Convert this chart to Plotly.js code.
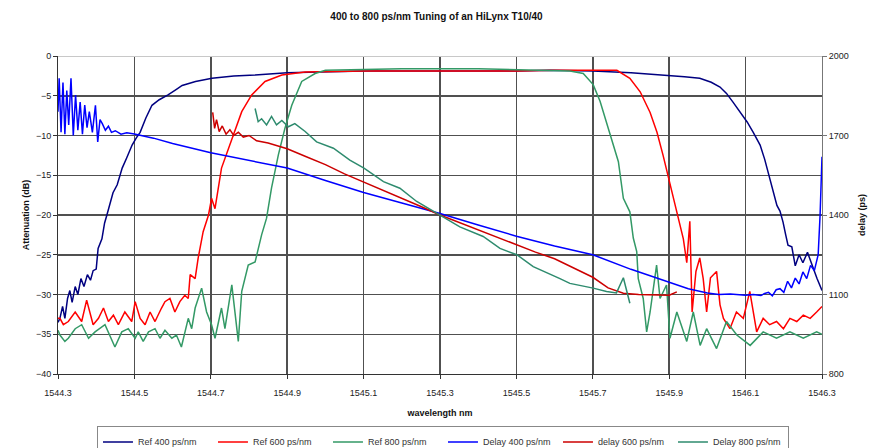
<!DOCTYPE html>
<html>
<head>
<meta charset="utf-8">
<script src="https://cdn.plot.ly/plotly-3.0.1.min.js"></script>
<style>html,body{margin:0;padding:0;background:#fff;}#chart{width:873px;height:448px;}</style>
</head>
<body>
<div id="chart"></div>
<script>
// ---- Data ----
const titleText = "400 to 800 ps/nm Tuning of an HiLynx T10/40";
const seriesNames = ["Ref 400 ps/nm", "Ref 600 ps/nm", "Ref 800 ps/nm", "Delay 400 ps/nm", "delay 600 ps/nm", "Delay 800 ps/nm"];
const xTickVals = [1544.3, 1544.5, 1544.7, 1544.9, 1545.1, 1545.3, 1545.5, 1545.7, 1545.9, 1546.1, 1546.3];
const yTickVals = [0, -5, -10, -15, -20, -25, -30, -35, -40];
const y2TickVals = [800, 1100, 1400, 1700, 2000];

// Ref 400 ps/nm  (attenuation, dB)
const ref400X = [1544.300,1544.305,1544.312,1544.318,1544.325,1544.331,1544.337,1544.345,1544.352,1544.360,1544.368,1544.377,1544.385,1544.392,1544.400,1544.405,1544.415,1544.422,1544.428,1544.436,1544.444,1544.455,1544.468,1544.480,1544.494,1544.505,1544.515,1544.530,1544.546,1544.565,1544.588,1544.610,1544.625,1544.660,1544.703,1544.760,1544.816,1544.900,1544.970,1545.100,1545.300,1545.500,1545.588,1545.700,1545.800,1545.894,1545.940,1545.980,1546.010,1546.033,1546.050,1546.067,1546.085,1546.104,1546.120,1546.138,1546.150,1546.164,1546.175,1546.182,1546.190,1546.198,1546.205,1546.211,1546.221,1546.230,1546.240,1546.250,1546.262,1546.275,1546.287,1546.300];
const ref400Y = [-33.5,-33.0,-31.5,-33.0,-30.5,-29.5,-31.0,-29.0,-30.0,-28.0,-29.0,-27.5,-28.2,-27.0,-26.8,-24.2,-23.0,-21.0,-20.0,-18.5,-17.2,-16.2,-14.1,-12.8,-11.2,-10.3,-9.6,-7.8,-6.2,-5.5,-4.9,-4.2,-3.7,-3.2,-2.8,-2.5,-2.4,-2.1,-2.0,-1.9,-1.9,-1.9,-1.8,-1.9,-2.1,-2.4,-2.6,-2.8,-3.3,-3.9,-4.7,-5.8,-7.0,-8.3,-9.6,-11.2,-13.0,-15.4,-17.5,-18.8,-19.5,-20.9,-22.5,-23.8,-24.0,-26.4,-25.0,-26.0,-24.7,-26.5,-28.0,-29.5];

// Ref 600 ps/nm  (attenuation, dB)
const ref600X = [1544.300,1544.305,1544.314,1544.327,1544.345,1544.362,1544.375,1544.384,1544.392,1544.406,1544.419,1544.432,1544.445,1544.458,1544.475,1544.493,1544.502,1544.515,1544.528,1544.541,1544.554,1544.571,1544.580,1544.593,1544.606,1544.619,1544.632,1544.641,1544.646,1544.659,1544.667,1544.680,1544.694,1544.702,1544.711,1544.728,1544.755,1544.781,1544.807,1544.842,1544.886,1544.947,1545.100,1545.300,1545.500,1545.600,1545.763,1545.797,1545.824,1545.850,1545.868,1545.884,1545.897,1545.910,1545.923,1545.937,1545.946,1545.954,1545.960,1545.970,1545.980,1545.989,1545.998,1546.008,1546.024,1546.033,1546.042,1546.059,1546.076,1546.094,1546.111,1546.129,1546.146,1546.163,1546.181,1546.199,1546.216,1546.234,1546.251,1546.269,1546.286,1546.300];
const ref600Y = [-33.0,-33.0,-33.8,-33.4,-32.2,-33.4,-30.7,-32.2,-33.8,-33.0,-31.7,-33.4,-32.6,-33.8,-32.2,-33.4,-30.9,-33.0,-33.8,-32.2,-33.4,-31.7,-30.9,-30.5,-32.2,-30.9,-30.1,-30.5,-27.5,-28.0,-25.4,-22.1,-20.0,-17.9,-19.2,-14.1,-10.4,-7.0,-4.9,-3.2,-2.4,-2.0,-1.9,-1.9,-1.9,-1.8,-1.8,-2.8,-4.5,-7.1,-9.6,-12.5,-15.0,-17.5,-20.0,-23.0,-26.0,-20.8,-32.2,-27.1,-25.4,-28.0,-32.2,-27.9,-27.1,-31.3,-33.0,-34.3,-32.2,-33.0,-29.6,-34.7,-33.0,-33.8,-33.4,-34.3,-33.0,-33.4,-32.6,-33.0,-32.2,-31.5];

// Ref 800 ps/nm  (attenuation, dB)
const ref800X = [1544.300,1544.305,1544.318,1544.327,1544.345,1544.362,1544.380,1544.397,1544.423,1544.436,1544.449,1544.467,1544.484,1544.502,1544.510,1544.523,1544.537,1544.554,1544.567,1544.580,1544.598,1544.610,1544.623,1544.641,1544.650,1544.659,1544.676,1544.689,1544.702,1544.711,1544.728,1544.737,1544.755,1544.772,1544.781,1544.798,1544.816,1544.833,1544.846,1544.859,1544.877,1544.894,1544.912,1544.938,1544.973,1545.000,1545.200,1545.400,1545.588,1545.640,1545.675,1545.701,1545.719,1545.736,1545.754,1545.767,1545.780,1545.797,1545.806,1545.815,1545.819,1545.832,1545.841,1545.850,1545.867,1545.876,1545.893,1545.902,1545.920,1545.946,1545.963,1545.981,1545.998,1546.024,1546.050,1546.077,1546.112,1546.146,1546.181,1546.216,1546.251,1546.286,1546.300];
const ref800Y = [-34.5,-35.1,-35.9,-35.5,-34.3,-33.8,-35.5,-34.7,-33.8,-35.1,-36.6,-34.7,-34.3,-35.5,-34.7,-35.9,-34.7,-34.3,-35.5,-34.5,-35.5,-35.1,-36.6,-33.0,-34.3,-31.7,-29.2,-32.2,-33.8,-35.5,-31.7,-34.3,-28.8,-35.9,-29.6,-26.3,-25.9,-22.5,-20.4,-16.6,-12.4,-9.1,-6.2,-3.2,-2.2,-1.8,-1.6,-1.6,-1.8,-1.9,-2.2,-3.6,-5.7,-8.3,-11.2,-13.3,-17.9,-19.6,-22.9,-24.6,-28.0,-30.5,-34.7,-32.2,-26.3,-30.5,-28.8,-35.5,-32.2,-35.9,-32.2,-36.4,-34.3,-36.8,-33.4,-35.1,-36.4,-34.7,-35.5,-34.7,-35.5,-34.7,-35.0];

// Delay 400 ps/nm  (delay, ps)
const delay400X = [1544.300,1544.303,1544.308,1544.313,1544.318,1544.323,1544.328,1544.334,1544.340,1544.346,1544.352,1544.358,1544.364,1544.370,1544.376,1544.382,1544.390,1544.398,1544.404,1544.410,1544.416,1544.424,1544.432,1544.440,1544.450,1544.465,1544.480,1544.500,1544.550,1544.600,1544.700,1544.800,1544.900,1545.000,1545.100,1545.200,1545.300,1545.400,1545.500,1545.600,1545.700,1545.800,1545.900,1545.950,1546.000,1546.030,1546.060,1546.100,1546.120,1546.140,1546.150,1546.160,1546.170,1546.180,1546.190,1546.200,1546.210,1546.220,1546.230,1546.240,1546.250,1546.260,1546.270,1546.280,1546.290,1546.295,1546.300];
const delay400Y = [1790,1916,1712,1900,1705,1870,1740,1916,1700,1853,1720,1826,1705,1815,1730,1790,1712,1814,1676,1760,1745,1720,1735,1712,1718,1705,1710,1706,1690,1670,1635,1605,1577,1530,1485,1445,1406,1362,1320,1283,1250,1195,1148,1122,1106,1100,1102,1097,1100,1096,1104,1108,1095,1118,1122,1108,1150,1125,1162,1140,1185,1160,1210,1190,1250,1400,1620];

// delay 600 ps/nm  (delay, ps)
const delay600X = [1544.705,1544.710,1544.715,1544.722,1544.730,1544.740,1544.750,1544.760,1544.772,1544.785,1544.800,1544.820,1544.850,1544.880,1544.900,1544.950,1545.000,1545.050,1545.100,1545.150,1545.200,1545.250,1545.300,1545.350,1545.400,1545.450,1545.500,1545.550,1545.600,1545.650,1545.700,1545.740,1545.780,1545.820,1545.860,1545.900,1545.920];
const delay600Y = [1787,1727,1760,1715,1736,1705,1722,1700,1712,1694,1700,1680,1672,1660,1650,1620,1590,1555,1525,1495,1465,1432,1400,1372,1342,1315,1288,1260,1235,1200,1165,1125,1105,1100,1098,1097,1110];

// Delay 800 ps/nm  (delay, ps)
const delay800X = [1544.816,1544.824,1544.833,1544.846,1544.859,1544.872,1544.886,1544.903,1544.920,1544.947,1544.977,1545.021,1545.064,1545.101,1545.152,1545.195,1545.239,1545.300,1545.352,1545.413,1545.457,1545.501,1545.544,1545.614,1545.640,1545.701,1545.736,1545.762,1545.780,1545.797];
const delay800Y = [1802,1752,1763,1740,1772,1740,1757,1733,1745,1715,1676,1652,1607,1577,1526,1501,1451,1400,1355,1319,1274,1250,1205,1160,1142,1124,1111,1106,1163,1067];

// ---- Chart ----
const FONT = "Liberation Sans, Arial, sans-serif";
const colors = ["#000080", "#FF0000", "#339966", "#0000FF", "#CC0000", "#2E8B6E"];
function tr(x, y, i, axis) {
  return {x: x, y: y, name: seriesNames[i], type: "scatter", mode: "lines",
          yaxis: axis, line: {color: colors[i], width: 1.5}};
}
const data = [
  tr(ref400X, ref400Y, 0, "y"),
  tr(ref600X, ref600Y, 1, "y"),
  tr(ref800X, ref800Y, 2, "y"),
  tr(delay400X, delay400Y, 3, "y2"),
  tr(delay600X, delay600Y, 4, "y2"),
  tr(delay800X, delay800Y, 5, "y2")
];
const layout = {
  width: 873, height: 448,
  margin: {l: 58, r: 51, t: 56, b: 74, autoexpand: false},
  paper_bgcolor: "#fff", plot_bgcolor: "#fff",
  font: {family: FONT, size: 9, color: "#222"},
  title: {text: titleText, font: {family: FONT, size: 10, color: "#111", weight: "bold"},
          x: 0.5, xanchor: "center", y: 1 - 16/448, yanchor: "middle"},
  showlegend: true,
  legend: {orientation: "h", x: 0.051, xanchor: "left", y: -0.165, yanchor: "top",
           bordercolor: "#888", borderwidth: 1, bgcolor: "#fff",
           entrywidth: 70, entrywidthmode: "pixels",
           font: {family: FONT, size: 9, color: "#333"}, itemwidth: 30, tracegroupgap: 0},
  xaxis: {range: [1544.3, 1546.3], tickvals: xTickVals, tickformat: ".1f",
          showgrid: true, gridcolor: "#505050", gridwidth: 1.5,
          showline: true, linecolor: "#333", linewidth: 1,
          ticks: "outside", ticklen: 4, tickcolor: "#333", zeroline: false,
          ticklabelstandoff: 6,
          tickfont: {family: FONT, size: 9, color: "#222"},
          title: {text: "wavelength nm", font: {family: FONT, size: 9, color: "#111", weight: "bold"}, standoff: 12}},
  yaxis: {range: [-40, 0], tickvals: yTickVals,
          showgrid: true, gridcolor: "#505050", gridwidth: 1.5,
          zeroline: true, zerolinecolor: "#c8c8c8", zerolinewidth: 1,
          showline: true, linecolor: "#333", linewidth: 1,
          ticks: "outside", ticklen: 4, tickcolor: "#333",
          tickfont: {family: FONT, size: 9, color: "#222"},
          title: {text: "Attenuation (dB)", font: {family: FONT, size: 9, color: "#111", weight: "bold"}, standoff: 4}},
  yaxis2: {range: [800, 2000], tickvals: y2TickVals, overlaying: "y", side: "right",
           showgrid: false, zeroline: false,
           showline: true, linecolor: "#777", linewidth: 1,
           ticks: "outside", ticklen: 4, tickcolor: "#777",
           tickfont: {family: FONT, size: 9, color: "#222"},
           title: {text: "delay (ps)", font: {family: FONT, size: 9, color: "#111", weight: "bold"}, standoff: 10}}
};
Plotly.newPlot("chart", data, layout, {displayModeBar: false, staticPlot: true});
</script>
</body>
</html>
